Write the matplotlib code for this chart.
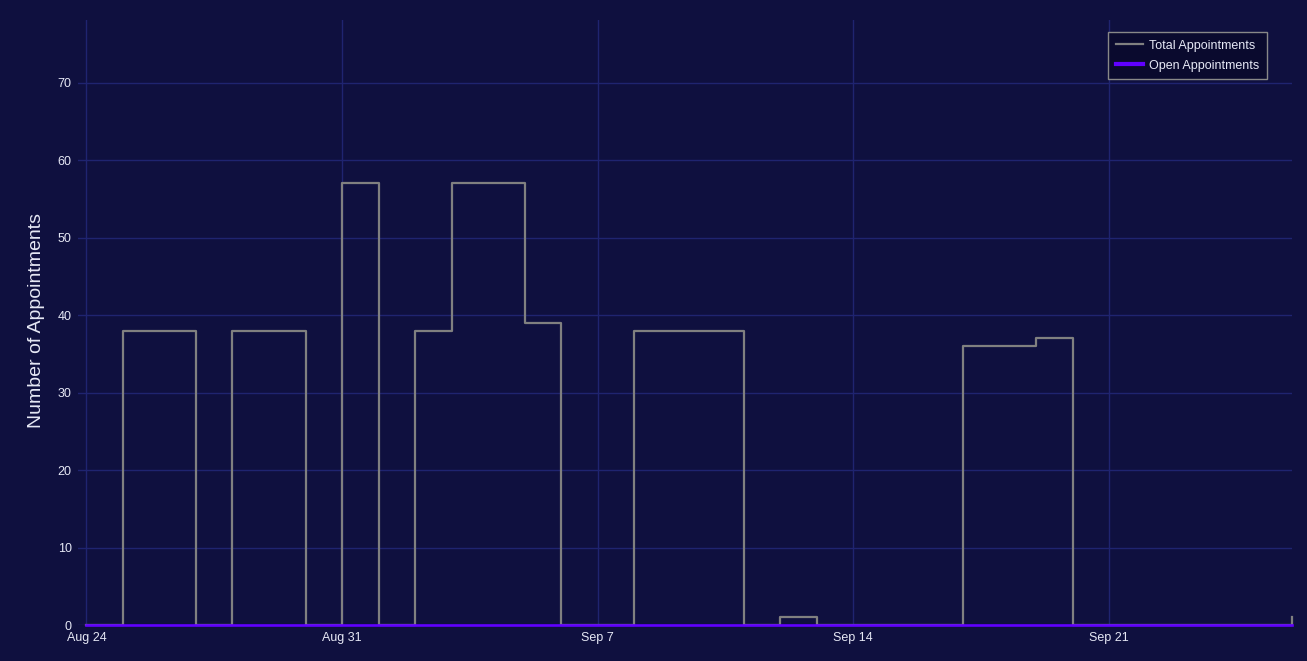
import matplotlib
matplotlib.use("Agg")
import matplotlib.pyplot as plt
import matplotlib.dates as mdates
import numpy as np
import pandas as pd

plt.rcParams['font.family'] = ['Liberation Sans', 'DejaVu Sans']

dates = pd.date_range("2025-08-24", "2025-09-26", freq="D")
total_appointments = [0, 38, 38, 0, 38, 38, 0, 57, 0, 38, 57, 57, 39, 0, 0,
                      38, 38, 38, 0, 1, 0, 0, 0, 0, 36, 36, 37, 0, 0, 0,
                      0, 0, 0, 1]
open_appointments = [0] * len(total_appointments)
tick_dates = pd.to_datetime(["2025-08-24", "2025-08-31", "2025-09-07",
                             "2025-09-14", "2025-09-21"])
tick_labels = ["Aug 24", "Aug 31", "Sep 7", "Sep 14", "Sep 21"]
y_ticks = [0, 10, 20, 30, 40, 50, 60, 70]

BG = "#0f103f"
GRID = "#1f2470"
TXT = "#e6e8f5"

W, H = 1307, 661
fig = plt.figure(figsize=(W / 100, H / 100), dpi=100, facecolor=BG)
ax = fig.add_axes([78 / W, (H - 625) / H, (1292 - 78) / W, (625 - 20) / H])
ax.set_facecolor(BG)

ax.step(dates, total_appointments, where="post", color="#808080",
        linewidth=1.6, label="Total Appointments", zorder=3, clip_on=False)
ax.step(dates, open_appointments, where="post", color="#6000ff",
        linewidth=1.9, label="Open Appointments", zorder=4, clip_on=False)

x0 = mdates.date2num(pd.Timestamp("2025-08-24")) - 0.23
x1 = mdates.date2num(pd.Timestamp("2025-09-26")) + 0.01
ax.set_xlim(x0, x1)
ax.set_ylim(0, 78.1)

ax.set_xticks(tick_dates)
ax.set_xticklabels(tick_labels)
ax.set_yticks(y_ticks)
ax.grid(True, color=GRID, linewidth=1)
ax.set_axisbelow(True)
for s in ax.spines.values():
    s.set_visible(False)
ax.tick_params(axis="both", colors=TXT, labelsize=9, length=0)
ax.tick_params(axis="x", pad=5)
ax.tick_params(axis="y", pad=4.5)

fig.text(37 / W, (H - 321) / H, "Number of Appointments", color=TXT,
         fontsize=14, rotation=90, ha="center", va="center")

leg = ax.legend(loc="upper right",
                bbox_to_anchor=((1267 - 78) / (1292 - 78), 1 - 12 / 605),
                fontsize=9, facecolor="#0a0a2e", edgecolor="#888888",
                labelcolor=TXT, framealpha=1, fancybox=False,
                handlelength=2.2, handletextpad=0.5, borderpad=0.6,
                labelspacing=0.65, borderaxespad=0)
leg.get_frame().set_linewidth(1)
leg.get_lines()[1].set_linewidth(3)

fig.savefig("out.png", dpi=100, facecolor=BG)
